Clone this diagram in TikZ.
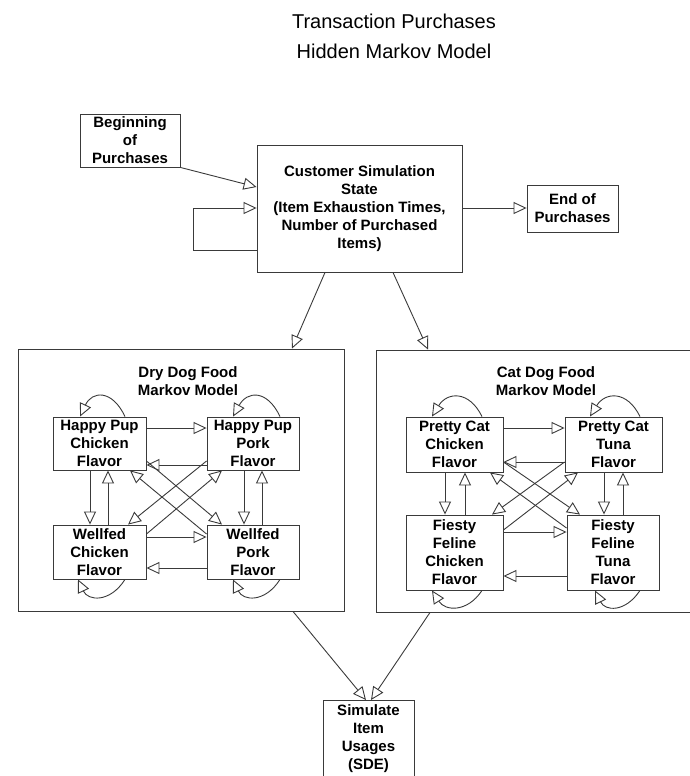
\documentclass[tikz,border=0pt]{standalone}
\usepackage{fontspec}
\setmainfont{Liberation Sans}
\usetikzlibrary{arrows.meta}
\definecolor{linec}{HTML}{3A3A3A}
\begin{document}
\begin{tikzpicture}[x=1pt,y=-1pt,
  box/.style={draw=linec, line width=0.9pt, rectangle, inner sep=0pt, align=center,
    font=\fontsize{15}{18}\selectfont\bfseries},
  bigbox/.style={draw=linec, line width=0.9pt, rectangle, inner sep=0pt},
  lab/.style={align=center, font=\fontsize{15}{18}\selectfont\bfseries},
  arr/.style={draw=linec, line width=0.9pt, -{Triangle[open,length=13pt,width=12pt]}},
  titlestyle/.style={align=center, font=\fontsize{20}{30}\selectfont}
]
\useasboundingbox (0,0) rectangle (690,776);

% title
\node[titlestyle] (title) at (394,36) {Transaction Purchases\\Hidden Markov Model};

% top level
\node[box, minimum width=100pt, minimum height=53pt] (beg) at (130,140.5) {Beginning\\of\\Purchases};
\node[box, minimum width=205pt, minimum height=127pt] (cust) at (359.5,208.5) {Customer Simulation\\State\\(Item Exhaustion Times,\\Number of Purchased\\Items)};
\node[box, minimum width=91pt, minimum height=47pt] (endp) at (572.5,208.5) {End of\\Purchases};

% sub-model frames
\node[bigbox, minimum width=326pt, minimum height=262pt] (dry) at (181,480) {};
\node[bigbox, minimum width=344pt, minimum height=262pt] (cat) at (548,481) {};
\node[lab] (drylab) at (188,381) {Dry Dog Food\\Markov Model};
\node[lab] (catlab) at (546,381) {Cat Dog Food\\Markov Model};

% dog states
\node[box, minimum width=93pt, minimum height=53pt] (hpc) at (99.5,443.5) {Happy Pup\\Chicken\\Flavor};
\node[box, minimum width=92pt, minimum height=53pt] (hpp) at (253,443.5) {Happy Pup\\Pork\\Flavor};
\node[box, minimum width=93pt, minimum height=54pt] (wc) at (99.5,552) {Wellfed\\Chicken\\Flavor};
\node[box, minimum width=92pt, minimum height=54pt] (wp) at (253,552) {Wellfed\\Pork\\Flavor};

% cat states
\node[box, minimum width=97pt, minimum height=55pt] (pcc) at (454.5,444.5) {Pretty Cat\\Chicken\\Flavor};
\node[box, minimum width=97pt, minimum height=55pt] (pct) at (613.5,444.5) {Pretty Cat\\Tuna\\Flavor};
\node[box, minimum width=97pt, minimum height=75pt] (ffc) at (454.5,552.5) {Fiesty\\Feline\\Chicken\\Flavor};
\node[box, minimum width=92pt, minimum height=75pt] (fft) at (613,552.5) {Fiesty\\Feline\\Tuna\\Flavor};

% bottom (frame runs past the page edge)
\node[box, minimum width=91pt, minimum height=95pt, anchor=north] (sim) at (368.5,700) {};
\node[lab] (simtext) at (368.5,739) {Simulate\\Item\\Usages\\(SDE)};

% top-level connectors
\draw[arr] (beg.south east) -- (cust.west |- 0,187);
\draw[arr] (cust.west |- 0,250) -| (193,208) -- (cust.west |- 0,208);
\draw[arr] (cust.east |- 0,208) -- (endp.west |- 0,208);
\draw[arr] (cust.south -| 325,0) -- (dry.north -| 292,0);
\draw[arr] (cust.south -| 393,0) -- (cat.north -| 428,0);
\draw[arr] (dry.south -| 293,0) -- (sim.north -| 366,0);
\draw[arr] (cat.south -| 430,0) -- (sim.north -| 371,0);

% dog transitions
\draw[arr] (hpc.east |- 0,428) -- (hpp.west |- 0,428);
\draw[arr] (hpp.west |- 0,465) -- (hpc.east |- 0,465);
\draw[arr] (wc.east |- 0,537) -- (wp.west |- 0,537);
\draw[arr] (wp.west |- 0,568) -- (wc.east |- 0,568);
\draw[arr] (hpc.south -| 90,0) -- (wc.north -| 90,0);
\draw[arr] (wc.north -| 108,0) -- (hpc.south -| 108,0);
\draw[arr] (hpp.south -| 244,0) -- (wp.north -| 244,0);
\draw[arr] (wp.north -| 262,0) -- (hpp.south -| 262,0);
\draw[arr] (hpc.east |- 0,461) -- (wp.north -| 222,0);
\draw[arr] (wp.west |- 0,534) -- (hpc.south -| 130,0);
\draw[arr] (hpp.west |- 0,461) -- (wc.north -| 128,0);
\draw[arr] (wc.east |- 0,534) -- (hpp.south -| 222,0);
\draw[arr] (hpc.north -| 125,0) .. controls (112,389) and (92,391) .. (hpc.north -| 80,0);
\draw[arr] (hpp.north -| 280,0) .. controls (267,389) and (247,391) .. (hpp.north -| 233,0);
\draw[arr] (wc.south -| 125,0) .. controls (110,603) and (88,601) .. (wc.south -| 78,0);
\draw[arr] (wp.south -| 280,0) .. controls (265,603) and (243,601) .. (wp.south -| 233,0);

% cat transitions
\draw[arr] (pcc.east |- 0,428) -- (pct.west |- 0,428);
\draw[arr] (pct.west |- 0,462) -- (pcc.east |- 0,462);
\draw[arr] (ffc.east |- 0,532) -- (fft.west |- 0,532);
\draw[arr] (fft.west |- 0,576) -- (ffc.east |- 0,576);
\draw[arr] (pcc.south -| 445,0) -- (ffc.north -| 445,0);
\draw[arr] (ffc.north -| 465,0) -- (pcc.south -| 465,0);
\draw[arr] (pct.south -| 604,0) -- (fft.north -| 604,0);
\draw[arr] (fft.north -| 623,0) -- (pct.south -| 623,0);
\draw[arr] (pcc.east |- 0,462) -- (fft.north -| 580,0);
\draw[arr] (fft.west |- 0,528) -- (pcc.south -| 490,0);
\draw[arr] (pct.west |- 0,462) -- (ffc.north -| 492,0);
\draw[arr] (ffc.east |- 0,530) -- (pct.south -| 578,0);
\draw[arr] (pcc.north -| 482,0) .. controls (469,390) and (447,392) .. (pcc.north -| 432,0);
\draw[arr] (pct.north -| 640,0) .. controls (627,390) and (605,392) .. (pct.north -| 590,0);
\draw[arr] (ffc.south -| 482,0) .. controls (467,613) and (445,611) .. (ffc.south -| 432,0);
\draw[arr] (fft.south -| 640,0) .. controls (625,613) and (605,611) .. (fft.south -| 595,0);
\end{tikzpicture}
\end{document}
